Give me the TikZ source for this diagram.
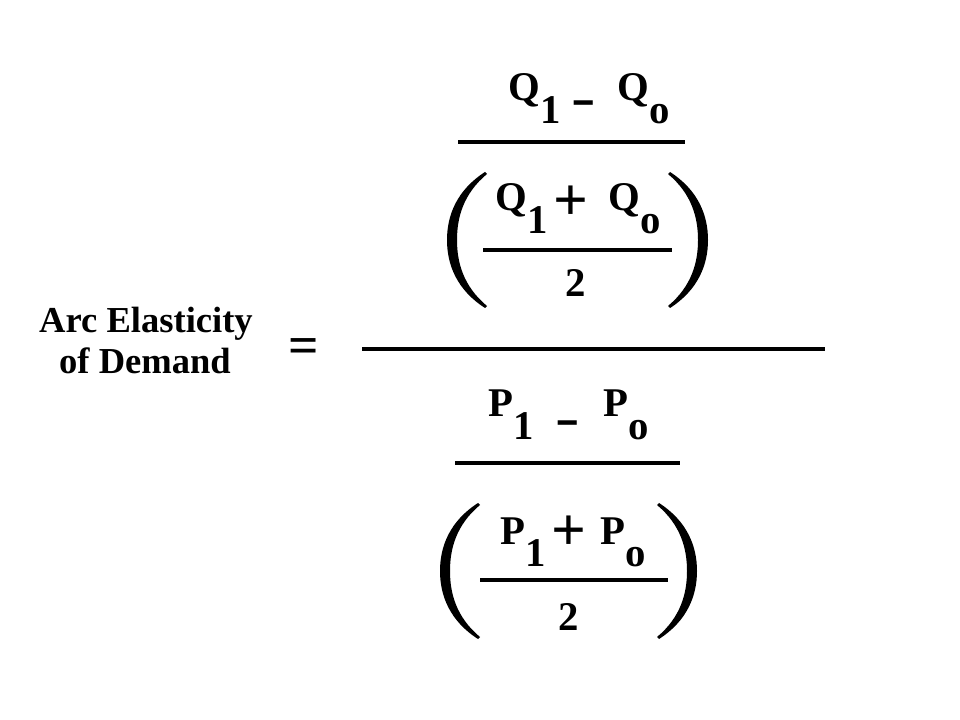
\documentclass[tikz,border=0pt]{standalone}
\usepackage{fontspec}
\setmainfont{Liberation Serif}
\newcommand{\lowsub}[3][0pt]{#2\kern#1\raisebox{-16pt}{#3}}
\begin{document}
\begin{tikzpicture}[x=0.025cm,y=-0.025cm]
\tikzstyle{every node}=[inner sep=0pt,anchor=base west,
font=\fontsize{29}{34}\selectfont\bfseries]
\tikzstyle{bar}=[line width=2.2pt]
\tikzstyle{word}=[anchor=base,font=\fontsize{26}{30}\selectfont\bfseries]
\tikzstyle{sign}=[anchor=base]
\tikzset{paren/.pic={\fill (38,-68) .. controls (10,-50) and (0,-25) .. (0,0)
 .. controls (0,25) and (10,50) .. (38,68) -- (40,66)
 .. controls (16,46) and (10,22) .. (10,0)
 .. controls (10,-22) and (16,-46) .. (40,-66) -- cycle;}}
\useasboundingbox (0,0) rectangle (960,720);

\draw (146,333) node (arc) [word] {Arc Elasticity};
\draw (145,374) node (dem) [word] {of Demand};
\draw (304,364) node (eq) [sign,font=\fontsize{38}{40}\selectfont\bfseries] {=};
\draw [bar] (362,349) -- (825,349);

\draw (508,101) node (q1a) {\lowsub{Q}{1}};
\draw (584,116) node (m1) [sign] {\scalebox{1.8}[1.3]{-}};
\draw (617,101) node (q0a) {\lowsub{Q}{o}};
\draw [bar] (458,142) -- (685,142);
\pic at (447,240) {paren};
\pic [xscale=-1] at (708,240) {paren};
\draw (495,211) node (q1b) {\lowsub{Q}{1}};
\draw (571,221) node (pl1) [sign] {\scalebox{1.5}{+}};
\draw (608,211) node (q0b) {\lowsub{Q}{o}};
\draw [bar] (483,250) -- (672,250);
\draw (576,297) node (two1) [sign] {2};

\draw (488,417) node (p1a) {\lowsub{P}{1}};
\draw (568,436) node (m2) [sign] {\scalebox{1.8}[1.3]{-}};
\draw (603,417) node (p0a) {\lowsub{P}{o}};
\draw [bar] (455,463) -- (680,463);
\pic at (440,571) {paren};
\pic [xscale=-1] at (697,571) {paren};
\draw (500,544) node (p1b) {\lowsub{P}{1}};
\draw (569,551) node (pl2) [sign] {\scalebox{1.5}{+}};
\draw (600,544) node (p0b) {\lowsub{P}{o}};
\draw [bar] (480,580) -- (668,580);
\draw (569,630) node (two2) [sign] {2};
\end{tikzpicture}
\end{document}
